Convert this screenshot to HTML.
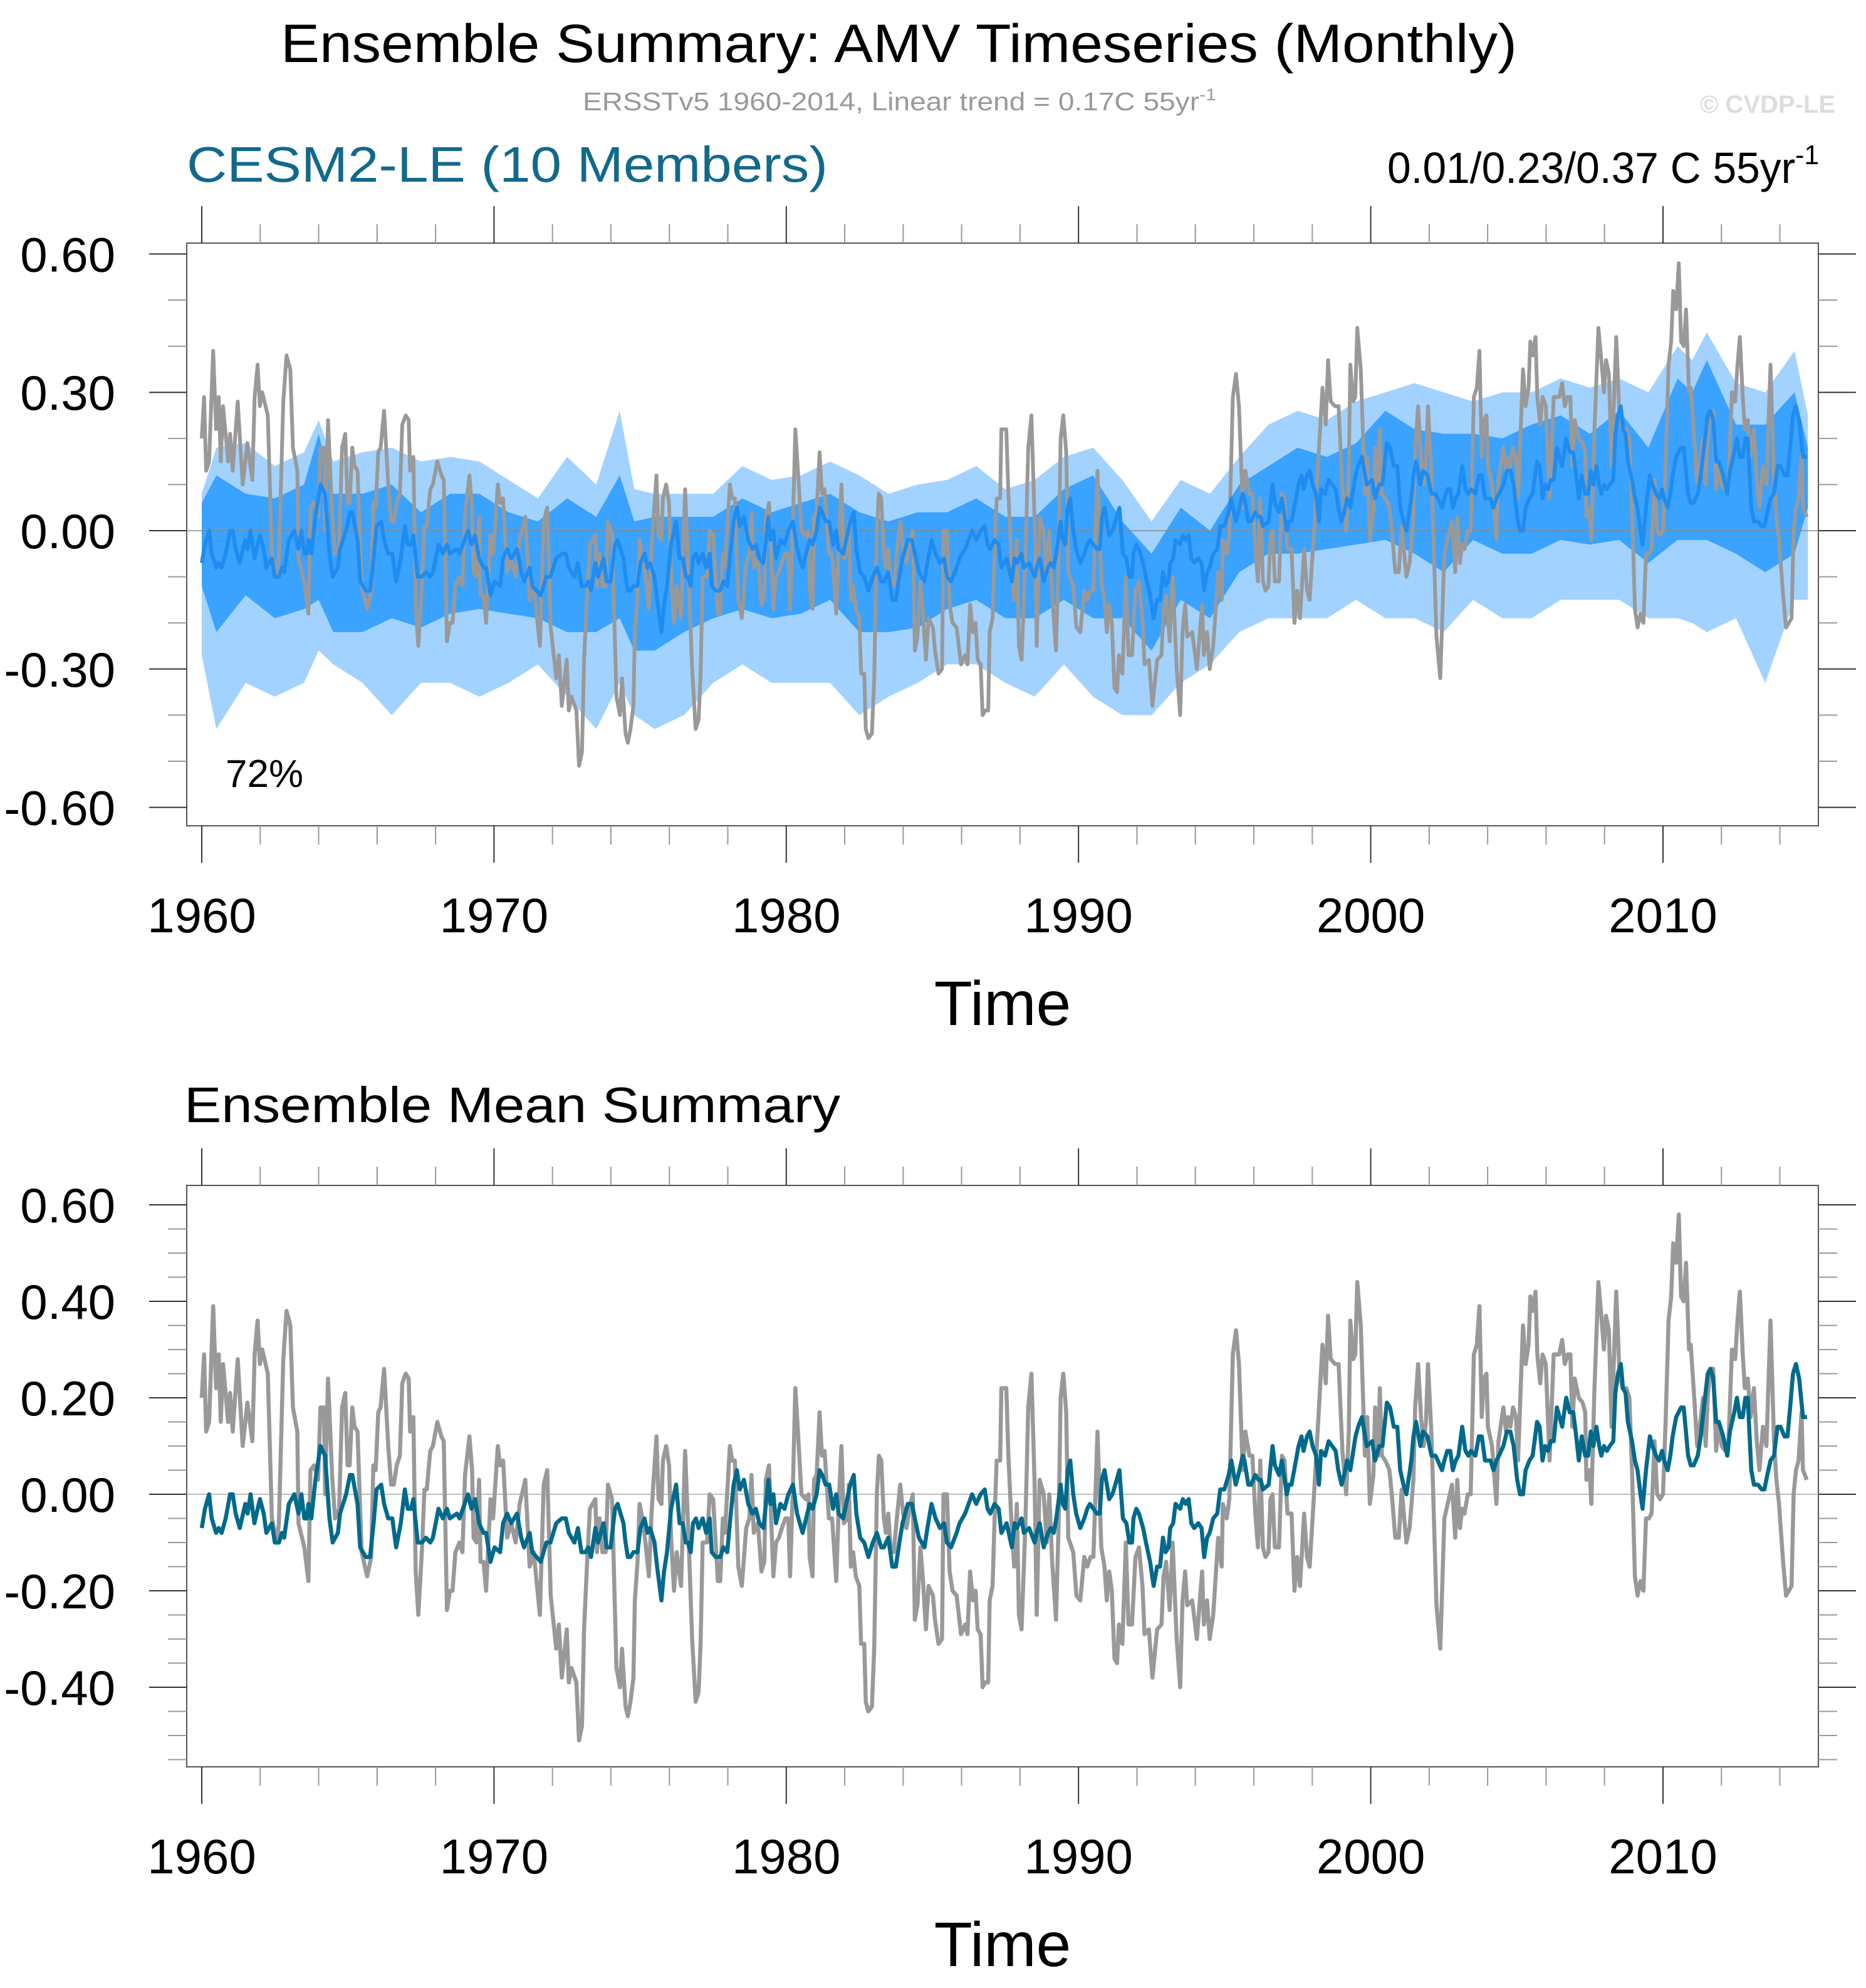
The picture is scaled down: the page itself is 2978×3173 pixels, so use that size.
<!DOCTYPE html>
<html><head><meta charset="utf-8">
<style>
html,body{margin:0;padding:0;background:#fff;}
svg{display:block;font-family:"Liberation Sans",Arial,sans-serif;}
</style></head>
<body>
<svg id="chart" xmlns="http://www.w3.org/2000/svg" width="2978" height="3173" viewBox="0 0 2978 3173">
<rect x="0" y="0" width="2978" height="3173" fill="#fff"/>
<text x="448" y="99" font-size="86" textLength="1973" lengthAdjust="spacingAndGlyphs" fill="#000">Ensemble Summary: AMV Timeseries (Monthly)</text>
<text x="930" y="176" font-size="41" textLength="1011" lengthAdjust="spacingAndGlyphs" fill="#999">ERSSTv5 1960-2014, Linear trend = 0.17C 55yr<tspan dy="-16" font-size="27">-1</tspan></text>
<text x="2929" y="180" font-size="40" font-weight="bold" text-anchor="end" fill="#ddd">© CVDP-LE</text>
<text x="298" y="290" font-size="80" textLength="1023" lengthAdjust="spacingAndGlyphs" fill="#12698c">CESM2-LE (10 Members)</text>
<text x="2214" y="292" font-size="70" textLength="689" lengthAdjust="spacingAndGlyphs" fill="#000">0.01/0.23/0.37 C 55yr<tspan dy="-30" font-size="44">-1</tspan></text>
<text x="294" y="1791" font-size="80" textLength="1047" lengthAdjust="spacingAndGlyphs" fill="#000">Ensemble Mean Summary</text>
<g id="top"></g>
<g id="bot"></g>
</svg>
<script>
// ---------- data ----------
const obsYears=[1960.00,1960.08,1960.15,1960.25,1960.39,1960.49,1960.58,1960.65,1960.73,1960.90,1960.97,1961.06,1961.23,1961.40,1961.56,1961.73,1961.81,1961.91,1961.99,1962.07,1962.26,1962.40,1962.57,1962.64,1962.79,1962.90,1963.03,1963.12,1963.27,1963.31,1963.51,1963.65,1963.72,1963.84,1963.98,1964.06,1964.18,1964.22,1964.32,1964.46,1964.56,1964.70,1964.80,1964.91,1964.99,1965.06,1965.15,1965.23,1965.33,1965.47,1965.66,1965.80,1965.87,1965.95,1966.04,1966.12,1966.24,1966.38,1966.48,1966.57,1966.67,1966.78,1966.86,1966.98,1967.08,1967.13,1967.24,1967.32,1967.41,1967.53,1967.62,1967.70,1967.82,1967.91,1968.06,1968.20,1968.28,1968.39,1968.49,1968.58,1968.68,1968.82,1968.92,1969.01,1969.16,1969.25,1969.30,1969.40,1969.49,1969.54,1969.64,1969.73,1969.88,1969.97,1970.13,1970.21,1970.31,1970.45,1970.59,1970.74,1970.88,1971.07,1971.22,1971.36,1971.57,1971.70,1971.82,1971.94,1972.13,1972.22,1972.32,1972.49,1972.56,1972.65,1972.82,1972.91,1973.01,1973.08,1973.18,1973.28,1973.37,1973.47,1973.52,1973.61,1973.71,1973.82,1973.90,1974.04,1974.19,1974.31,1974.38,1974.50,
1974.58,1974.67,1974.77,1974.82,1974.91,1974.98,1975.11,1975.20,1975.30,1975.39,1975.46,1975.56,1975.63,1975.73,1975.78,1975.89,1975.99,1976.06,1976.16,1976.25,1976.40,1976.54,1976.68,1976.78,1976.90,1977.00,1977.07,1977.14,1977.29,1977.38,1977.50,1977.66,1977.74,1977.83,1977.90,1978.07,1978.15,1978.24,1978.36,1978.48,1978.63,1978.74,1978.81,1978.89,1979.03,1979.15,1979.25,1979.30,1979.41,1979.56,1979.65,1979.75,1979.85,1979.97,1980.07,1980.13,1980.23,1980.31,1980.39,1980.52,1980.66,1980.76,1980.80,1980.90,1980.95,1981.04,1981.14,1981.22,1981.31,1981.46,1981.57,1981.71,1981.81,1981.89,1981.97,1982.10,1982.14,1982.21,1982.29,1982.38,1982.50,1982.56,1982.67,1982.72,1982.81,1982.93,1983.01,1983.10,1983.17,1983.25,1983.34,1983.41,1983.49,1983.58,1983.68,1983.80,1983.90,1984.00,1984.11,1984.25,1984.33,1984.40,1984.49,1984.59,1984.68,1984.78,1984.87,1985.02,1985.09,1985.21,1985.33,1985.38,1985.50,1985.59,1985.69,1985.83,1985.98,1986.12,1986.20,1986.29,1986.39,1986.48,1986.55,1986.65,1986.72,1986.81,1986.91,1986.96,1987.06,1987.13,1987.20,1987.32,1987.36,1987.53,1987.60,1987.70,1987.80,1987.89,1987.96,1988.05,1988.18,1988.28,1988.39,1988.50,
1988.57,1988.67,1988.81,1988.91,1989.00,1989.10,1989.23,1989.32,1989.39,1989.48,1989.58,1989.65,1989.82,1989.93,1990.06,1990.20,1990.30,1990.41,1990.51,1990.65,1990.78,1990.89,1990.97,1991.05,1991.14,1991.23,1991.32,1991.38,1991.50,1991.62,1991.71,1991.83,1991.95,1992.07,1992.19,1992.26,1992.41,1992.53,1992.69,1992.84,1992.91,1993.00,1993.12,1993.22,1993.36,1993.48,1993.56,1993.65,1993.72,1993.89,1994.05,1994.23,1994.29,1994.40,1994.49,1994.61,1994.78,1994.90,1994.94,1995.07,1995.16,1995.28,1995.39,1995.49,1995.62,1995.71,1995.85,1995.95,1996.05,1996.14,1996.22,1996.31,1996.40,1996.50,1996.57,1996.64,1996.72,1996.86,1996.96,1997.05,1997.15,1997.29,1997.39,1997.48,1997.58,1997.72,1997.82,1997.91,1998.06,1998.23,1998.35,1998.46,1998.54,1998.63,1998.78,1998.90,1999.03,1999.16,1999.25,1999.30,1999.40,1999.47,1999.54,1999.66,1999.80,1999.88,1999.97,2000.09,2000.15,2000.26,2000.31,2000.38,2000.50,2000.64,2000.72,2000.84,2000.96,2001.06,2001.22,2001.33,2001.46,2001.52,2001.62,2001.72,2001.81,2001.89,2001.96,2002.08,2002.25,2002.38,
2002.52,2002.67,2002.78,2002.89,2002.96,2003.05,2003.13,2003.21,2003.32,2003.42,2003.53,2003.63,2003.72,2003.80,2003.87,2003.96,2004.01,2004.15,2004.30,2004.37,2004.54,2004.63,2004.70,2004.78,2004.87,2004.97,2005.04,2005.21,2005.30,2005.40,2005.46,2005.54,2005.64,2005.70,2005.80,2005.88,2005.99,2006.12,2006.26,2006.45,2006.55,2006.64,2006.74,2006.83,2006.90,2006.98,2007.12,2007.25,2007.34,2007.38,2007.49,2007.55,2007.65,2007.79,2007.89,2007.98,2008.05,2008.15,2008.24,2008.40,2008.51,2008.61,2008.75,2008.85,2008.94,2009.04,2009.13,2009.23,2009.33,2009.42,2009.52,2009.61,2009.71,2009.80,2009.90,2010.00,2010.09,2010.19,2010.28,2010.35,2010.45,2010.54,2010.62,2010.71,2010.79,2010.89,2010.95,2011.07,2011.17,2011.24,2011.37,2011.46,2011.53,2011.62,2011.72,2011.82,2011.91,2012.01,2012.13,2012.23,2012.36,2012.47,2012.55,2012.63,2012.73,2012.80,2012.90,2013.00,2013.11,2013.21,2013.30,2013.42,2013.54,2013.68,2013.80,2013.88,2013.97,2014.11,2014.21,2014.31,2014.40,2014.47,2014.55,2014.64,2014.74,2014.79,2014.92];
const obsVals=[0.20,0.29,0.13,0.15,0.39,0.22,0.29,0.15,0.27,0.15,0.21,0.13,0.28,0.10,0.19,0.11,0.29,0.36,0.27,0.30,0.25,-0.05,-0.10,-0.06,0.28,0.38,0.35,0.18,0.13,-0.06,-0.11,-0.18,0.05,0.06,0.03,0.18,0.18,0.00,0.24,0.04,-0.05,-0.03,0.18,0.21,0.06,0.06,0.18,0.14,0.13,-0.12,-0.17,-0.13,0.06,0.05,0.17,0.18,0.26,0.10,0.02,0.02,0.06,0.08,0.23,0.25,0.24,0.13,0.16,-0.16,-0.25,-0.12,0.01,0.01,0.09,0.10,0.15,0.12,0.11,-0.24,-0.20,-0.20,-0.12,-0.10,-0.12,0.04,0.12,0.05,-0.09,-0.10,0.03,-0.14,-0.14,-0.20,-0.01,-0.05,0.10,0.06,0.07,-0.09,-0.06,-0.10,-0.02,0.03,-0.15,-0.12,-0.25,0.02,0.05,-0.21,-0.32,-0.27,-0.38,-0.28,-0.39,-0.36,-0.39,-0.51,-0.48,-0.28,-0.15,-0.03,-0.02,-0.01,-0.12,-0.05,-0.12,-0.12,0.02,-0.01,-0.36,-0.40,-0.32,-0.44,
-0.46,-0.43,-0.38,-0.22,-0.14,-0.02,-0.06,-0.11,-0.17,-0.04,0.03,0.12,-0.01,-0.02,0.07,0.10,0.06,-0.09,-0.20,-0.12,-0.19,0.09,-0.13,-0.30,-0.43,-0.41,-0.31,-0.10,-0.10,0.00,-0.01,-0.18,-0.18,-0.05,-0.08,0.10,0.07,0.07,-0.15,-0.19,-0.07,-0.05,0.04,-0.08,-0.06,-0.16,-0.14,0.03,0.06,-0.17,-0.10,-0.09,-0.07,-0.05,-0.05,-0.17,0.02,0.22,0.14,0.00,-0.01,0.00,-0.13,-0.17,0.03,0.04,0.17,0.08,0.09,-0.05,-0.05,-0.18,0.00,0.10,-0.06,-0.05,0.02,-0.15,-0.12,-0.17,-0.19,-0.31,-0.31,-0.43,-0.45,-0.44,-0.32,0.00,0.08,0.07,-0.05,-0.08,-0.04,-0.12,-0.12,-0.04,0.02,-0.04,-0.07,-0.02,0.00,-0.26,-0.23,-0.11,-0.18,-0.28,-0.19,-0.21,-0.26,-0.31,-0.30,0.00,0.00,-0.16,-0.20,-0.21,-0.29,-0.27,-0.29,-0.16,-0.22,-0.20,-0.28,-0.29,-0.40,-0.39,-0.39,-0.22,-0.19,-0.05,0.07,0.07,0.22,0.22,0.08,-0.05,-0.15,-0.02,-0.25,-0.28,-0.07,0.18,0.25,0.02,
-0.25,0.03,0.00,-0.10,0.00,-0.14,-0.26,-0.06,0.20,0.25,0.17,-0.09,-0.12,-0.21,-0.22,-0.13,-0.15,-0.13,-0.13,0.13,-0.11,-0.15,-0.22,-0.16,-0.20,-0.34,-0.35,-0.27,-0.31,-0.10,-0.27,-0.27,-0.13,-0.11,-0.19,-0.29,-0.28,-0.38,-0.28,-0.27,-0.17,-0.14,-0.24,-0.10,-0.30,-0.40,-0.22,-0.16,-0.23,-0.22,-0.30,-0.16,-0.27,-0.22,-0.30,-0.25,-0.09,-0.15,-0.02,-0.05,-0.01,0.29,0.34,0.27,0.05,0.13,0.08,0.08,-0.04,-0.11,0.07,-0.11,-0.13,-0.12,-0.01,0.00,-0.11,-0.11,0.08,0.07,-0.04,-0.04,-0.20,-0.13,-0.19,-0.04,-0.13,-0.15,0.00,0.18,0.31,0.23,0.37,0.28,0.27,0.27,0.09,0.00,0.13,0.36,0.28,0.29,0.44,0.35,0.08,0.16,-0.02,0.04,0.18,0.08,0.22,0.08,0.07,0.05,0.00,-0.09,-0.09,0.01,-0.10,-0.07,0.03,0.18,0.27,0.16,0.10,0.15,0.27,0.12,-0.23,-0.32,
-0.05,-0.01,0.02,-0.09,0.03,-0.07,-0.03,-0.04,0.00,0.00,0.29,0.31,0.39,0.16,0.24,0.25,0.14,0.10,-0.02,0.11,0.18,0.13,0.16,0.14,0.18,0.16,0.07,0.35,0.27,0.31,0.41,0.38,0.42,0.29,0.23,0.29,0.27,0.07,0.29,0.29,0.32,0.27,0.29,0.29,0.14,0.24,0.20,0.19,0.17,0.03,0.05,-0.02,0.21,0.44,0.37,0.30,0.37,0.34,0.14,0.42,0.25,0.22,0.22,0.20,0.05,-0.17,-0.21,-0.18,-0.20,-0.05,-0.05,-0.04,0.11,0.00,-0.01,0.00,0.15,0.36,0.41,0.52,0.48,0.58,0.41,0.40,0.48,0.30,0.31,0.20,0.10,0.13,0.20,0.10,0.20,0.26,0.26,0.09,0.15,0.10,0.09,0.09,0.30,0.28,0.36,0.42,0.29,0.22,0.24,0.16,0.22,0.11,0.05,0.14,0.10,0.36,0.11,0.03,-0.02,-0.14,-0.21,-0.20,-0.19,0.00,0.05,0.07,0.17,0.05,0.03];

const meanYears=[1960.00,1960.11,1960.25,1960.34,1960.49,1960.58,1960.68,1960.82,1960.97,1961.06,1961.16,1961.30,1961.49,1961.57,1961.67,1961.80,1961.99,1962.12,1962.21,1962.40,1962.50,1962.64,1962.74,1962.82,1962.98,1963.17,1963.31,1963.41,1963.51,1963.60,1963.65,1963.75,1963.89,1964.06,1964.22,1964.37,1964.48,1964.66,1964.73,1964.94,1965.07,1965.15,1965.33,1965.42,1965.61,1965.76,1965.88,1965.98,1966.14,1966.24,1966.38,1966.52,1966.65,1966.81,1966.95,1967.05,1967.16,1967.24,1967.39,1967.53,1967.67,1967.82,1967.91,1968.10,1968.25,1968.39,1968.49,1968.73,1968.82,1969.11,1969.23,1969.35,1969.49,1969.64,1969.73,1969.88,1970.02,1970.21,1970.31,1970.45,1970.59,1970.79,1970.93,1971.03,1971.22,1971.31,1971.60,1971.79,1971.93,1972.13,1972.32,1972.46,1972.56,1972.75,1972.87,1972.99,1973.13,1973.23,1973.32,1973.47,1973.56,1973.75,1973.85,1973.99,1974.14,1974.23,1974.43,1974.50,
1974.58,1974.67,1974.77,1974.91,1975.01,1975.15,1975.25,1975.34,1975.49,1975.58,1975.73,1975.82,1975.92,1976.06,1976.23,1976.35,1976.46,1976.56,1976.64,1976.73,1976.81,1976.91,1977.00,1977.14,1977.26,1977.38,1977.45,1977.59,1977.74,1977.85,1977.98,1978.07,1978.20,1978.31,1978.41,1978.55,1978.70,1978.84,1978.96,1979.08,1979.22,1979.39,1979.46,1979.56,1979.65,1979.80,1979.94,1980.07,1980.23,1980.37,1980.56,1980.80,1980.90,1981.04,1981.14,1981.23,1981.35,1981.47,1981.60,1981.71,1981.79,1981.95,1982.19,1982.31,1982.40,1982.53,1982.67,1982.81,1982.96,1983.10,1983.25,1983.34,1983.49,1983.63,1983.75,1983.87,1983.98,1984.16,1984.30,1984.40,1984.54,1984.73,1984.83,1984.97,1985.11,1985.26,1985.40,1985.50,1985.64,1985.83,1985.93,1986.12,1986.36,1986.50,1986.65,1986.79,1986.89,1986.98,1987.13,1987.27,1987.36,1987.54,1987.72,1987.81,1987.89,1988.05,1988.13,1988.31,1988.50,
1988.57,1988.67,1988.81,1988.96,1989.05,1989.15,1989.24,1989.39,1989.46,1989.55,1989.63,1989.72,1989.82,1989.92,1990.06,1990.20,1990.30,1990.39,1990.51,1990.63,1990.73,1990.80,1990.89,1991.05,1991.16,1991.26,1991.40,1991.52,1991.64,1991.74,1991.83,1991.88,1991.98,1992.07,1992.21,1992.31,1992.45,1992.57,1992.69,1992.79,1992.89,1992.98,1993.08,1993.14,1993.24,1993.32,1993.48,1993.57,1993.67,1993.77,1993.86,1993.96,1994.10,1994.21,1994.30,1994.40,1994.49,1994.61,1994.75,1994.85,1994.99,1995.14,1995.23,1995.38,1995.47,1995.62,1995.68,1995.81,1995.90,1996.05,1996.16,1996.24,1996.31,1996.51,1996.64,1996.72,1996.86,1996.96,1997.13,1997.20,1997.29,1997.44,1997.53,1997.63,1997.70,1997.82,1997.91,1998.01,1998.13,1998.23,1998.30,1998.44,1998.56,1998.68,1998.80,1998.89,1999.00,1999.09,1999.19,1999.30,1999.48,1999.57,1999.70,1999.86,2000.05,2000.15,2000.29,2000.40,2000.55,2000.66,2000.79,2000.91,2001.01,2001.12,2001.22,2001.39,2001.46,2001.55,2001.70,2001.79,2001.94,2002.08,2002.22,2002.44,
2002.52,2002.62,2002.72,2002.81,2002.91,2003.00,2003.13,2003.24,2003.34,2003.43,2003.58,2003.70,2003.80,2003.91,2003.99,2004.10,2004.20,2004.30,2004.39,2004.54,2004.66,2004.78,2004.89,2005.01,2005.11,2005.21,2005.30,2005.43,2005.54,2005.69,2005.78,2005.88,2005.97,2006.07,2006.16,2006.26,2006.37,2006.55,2006.69,2006.81,2006.93,2007.03,2007.12,2007.22,2007.34,2007.44,2007.53,2007.62,2007.72,2007.82,2007.89,2007.98,2008.08,2008.18,2008.30,2008.37,2008.46,2008.56,2008.63,2008.72,2008.80,2008.94,2009.04,2009.13,2009.23,2009.30,2009.42,2009.55,2009.64,2009.76,2009.87,2009.97,2010.04,2010.16,2010.25,2010.33,2010.45,2010.62,2010.71,2010.86,2010.95,2011.05,2011.19,2011.29,2011.40,2011.53,2011.62,2011.72,2011.82,2011.91,2012.06,2012.20,2012.29,2012.44,2012.53,2012.63,2012.73,2012.82,2012.90,2013.02,2013.11,2013.25,2013.38,2013.47,2013.57,2013.68,2013.80,2013.92,2014.02,2014.16,2014.26,2014.35,2014.45,2014.55,2014.66,2014.79,2014.93];
const meanVals=[-0.07,-0.03,0.00,-0.05,-0.08,-0.07,-0.08,-0.05,0.00,0.00,-0.04,-0.07,-0.02,-0.04,0.00,-0.06,-0.01,-0.04,-0.08,-0.06,-0.10,-0.10,-0.08,-0.09,-0.02,0.00,-0.04,0.00,-0.05,-0.05,-0.02,-0.05,0.03,0.10,0.08,-0.05,-0.10,-0.08,-0.04,0.00,0.04,0.04,-0.02,-0.11,-0.13,-0.13,-0.06,0.01,0.02,-0.02,-0.05,-0.05,-0.11,-0.06,0.01,-0.03,-0.03,-0.01,-0.10,-0.10,-0.09,-0.10,-0.09,-0.03,-0.05,-0.03,-0.05,-0.04,-0.05,0.00,-0.03,-0.01,-0.06,-0.08,-0.08,-0.14,-0.11,-0.12,-0.06,-0.04,-0.06,-0.04,-0.09,-0.11,-0.08,-0.12,-0.14,-0.10,-0.10,-0.06,-0.05,-0.05,-0.08,-0.10,-0.07,-0.12,-0.12,-0.11,-0.13,-0.07,-0.10,-0.06,-0.11,-0.11,-0.03,-0.02,-0.06,-0.10,
-0.13,-0.13,-0.12,-0.12,-0.07,-0.05,-0.08,-0.07,-0.10,-0.15,-0.22,-0.16,-0.12,-0.03,0.02,-0.06,-0.06,-0.10,-0.10,-0.12,-0.06,-0.05,-0.07,-0.05,-0.08,-0.05,-0.12,-0.13,-0.13,-0.11,-0.12,-0.06,0.02,0.05,0.01,0.03,-0.02,-0.04,-0.03,-0.06,-0.07,0.03,-0.02,0.00,-0.06,-0.02,-0.03,0.00,0.02,-0.04,-0.08,-0.02,-0.03,0.00,0.05,0.04,0.02,0.02,-0.03,0.00,-0.04,-0.05,0.02,0.04,-0.04,-0.09,-0.10,-0.13,-0.10,-0.08,-0.11,-0.11,-0.09,-0.15,-0.15,-0.10,-0.06,-0.02,-0.02,-0.05,-0.09,-0.11,-0.07,-0.02,-0.05,-0.07,-0.06,-0.10,-0.11,-0.08,-0.06,-0.04,0.00,-0.02,0.00,0.01,-0.03,-0.04,-0.02,-0.03,-0.08,-0.06,-0.11,-0.06,-0.07,-0.05,-0.08,-0.07,-0.10,
-0.08,-0.06,-0.11,-0.08,-0.07,-0.08,-0.05,0.02,-0.02,-0.03,0.05,0.07,0.00,-0.04,-0.07,-0.05,-0.03,-0.02,-0.03,-0.04,-0.04,0.03,0.05,-0.01,0.00,0.02,0.05,-0.05,-0.06,-0.10,-0.10,-0.05,-0.03,-0.04,-0.07,-0.10,-0.14,-0.19,-0.15,-0.15,-0.09,-0.12,-0.11,-0.07,-0.06,-0.02,-0.03,-0.01,-0.02,-0.01,-0.06,-0.07,-0.06,-0.07,-0.13,-0.09,-0.08,-0.05,-0.04,0.01,0.01,0.04,0.07,0.02,0.04,0.08,0.07,0.02,0.02,0.04,0.03,0.03,0.01,0.02,0.10,0.06,0.04,0.07,0.00,0.02,0.02,0.07,0.10,0.12,0.09,0.12,0.13,0.10,0.08,0.02,0.09,0.08,0.11,0.10,0.09,0.05,0.02,0.04,0.07,0.05,0.12,0.14,0.16,0.10,0.11,0.07,0.10,0.10,0.19,0.18,0.14,0.14,0.05,0.02,0.00,0.07,0.12,0.15,0.10,0.13,0.12,0.08,0.08,0.05,
0.07,0.09,0.09,0.05,0.07,0.08,0.14,0.09,0.08,0.09,0.08,0.12,0.12,0.07,0.07,0.07,0.05,0.07,0.08,0.10,0.13,0.13,0.10,0.03,0.00,0.00,0.05,0.07,0.08,0.15,0.14,0.07,0.10,0.09,0.11,0.11,0.18,0.14,0.20,0.17,0.17,0.12,0.07,0.12,0.08,0.08,0.13,0.10,0.14,0.10,0.08,0.10,0.09,0.10,0.11,0.21,0.25,0.27,0.22,0.21,0.15,0.11,0.07,0.05,0.00,-0.03,0.05,0.12,0.10,0.08,0.07,0.09,0.07,0.05,0.08,0.12,0.16,0.18,0.18,0.08,0.06,0.06,0.08,0.12,0.18,0.25,0.26,0.24,0.15,0.15,0.12,0.08,0.13,0.17,0.20,0.16,0.16,0.20,0.20,0.05,0.02,0.02,0.01,0.01,0.04,0.07,0.08,0.14,0.14,0.12,0.12,0.18,0.25,0.27,0.24,0.16,0.16];

const bandYears=[1960.0,1960.5,1961.5,1962.5,1963.5,1964.0,1964.5,1965.5,1966.5,1967.5,1968.5,1969.5,1970.5,1971.5,1972.5,1973.5,1974.3,1974.8,1975.5,1976.5,1977.5,1978.5,1979.5,1980.5,1981.5,1982.5,1983.5,1984.5,1985.5,1986.5,1987.5,1988.5,1989.5,1990.5,1991.5,1992.5,1993.5,1994.5,1995.5,1996.5,1997.5,1998.5,1999.5,2000.5,2001.5,2002.5,2003.5,2004.5,2005.5,2006.5,2007.5,2008.5,2009.5,2010.5,2011.0,2011.5,2012.5,2013.5,2014.5,2014.96];
const lightTop=[0.08,0.18,0.19,0.14,0.17,0.24,0.15,0.17,0.18,0.15,0.16,0.15,0.11,0.07,0.16,0.10,0.26,0.09,0.08,0.08,0.08,0.14,0.11,0.12,0.15,0.12,0.08,0.10,0.11,0.14,0.09,0.11,0.16,0.18,0.11,0.02,0.11,0.08,0.16,0.23,0.26,0.24,0.28,0.30,0.32,0.30,0.28,0.30,0.30,0.33,0.31,0.33,0.30,0.40,0.37,0.43,0.32,0.30,0.39,0.25];
const darkTop=[0.06,0.12,0.08,0.07,0.10,0.21,0.08,0.08,0.10,0.04,0.08,0.08,0.04,0.02,0.07,0.03,0.12,0.02,0.03,0.03,0.03,0.07,0.04,0.06,0.08,0.04,0.02,0.04,0.04,0.07,0.03,0.03,0.09,0.12,0.02,-0.05,0.05,0.00,0.10,0.14,0.18,0.16,0.19,0.26,0.22,0.21,0.21,0.20,0.23,0.25,0.21,0.26,0.18,0.33,0.30,0.37,0.23,0.23,0.30,0.18];
const darkBot=[-0.12,-0.22,-0.14,-0.19,-0.17,-0.15,-0.22,-0.22,-0.19,-0.21,-0.18,-0.17,-0.18,-0.19,-0.22,-0.22,-0.19,-0.26,-0.26,-0.22,-0.19,-0.17,-0.19,-0.18,-0.15,-0.22,-0.22,-0.21,-0.17,-0.15,-0.19,-0.19,-0.15,-0.19,-0.19,-0.26,-0.15,-0.19,-0.09,-0.05,-0.05,-0.04,-0.03,-0.02,-0.05,-0.09,-0.02,-0.05,-0.05,-0.02,-0.03,-0.02,-0.07,-0.02,-0.02,-0.02,-0.05,-0.09,-0.05,0.05];
const lightBot=[-0.27,-0.43,-0.33,-0.36,-0.33,-0.26,-0.29,-0.33,-0.40,-0.33,-0.33,-0.36,-0.33,-0.29,-0.36,-0.43,-0.33,-0.40,-0.43,-0.40,-0.33,-0.29,-0.33,-0.33,-0.33,-0.40,-0.36,-0.33,-0.29,-0.29,-0.33,-0.36,-0.29,-0.36,-0.40,-0.40,-0.33,-0.29,-0.22,-0.19,-0.19,-0.19,-0.15,-0.19,-0.19,-0.22,-0.15,-0.19,-0.19,-0.15,-0.15,-0.15,-0.19,-0.19,-0.20,-0.22,-0.19,-0.33,-0.15,-0.15];

const topTicks=[0.6,0.3,0.0,-0.3,-0.6];
const topTickLabels=["0.60","0.30","0.00","-0.30","-0.60"];
const botTicks=[0.6,0.4,0.2,0.0,-0.2,-0.4];
const botTickLabels=["0.60","0.40","0.20","0.00","-0.20","-0.40"];
const yearTicks=[1960,1970,1980,1990,2000,2010];
const yearLabels=["1960","1970","1980","1990","2000","2010"];

// ---------- drawing ----------
const NS="http://www.w3.org/2000/svg";
const X0=298,X1=2902;
const xScale=y=>322+(y-1960)*46.64;
function mk(tag,attrs,parent){const e=document.createElementNS(NS,tag);for(const k in attrs)e.setAttribute(k,attrs[k]);parent.appendChild(e);return e;}

function panel(g,top,bottom,zeroY,ppu,ticks,labels,minorStep,name){
  const yS=v=>zeroY-v*ppu;
  const vmin=(zeroY-bottom)/ppu, vmax=(zeroY-top)/ppu;
  const cp=mk('clipPath',{id:'clip-'+name},g);
  mk('rect',{x:X0,y:top,width:X1-X0,height:bottom-top},cp);
  const fr=mk('rect',{x:X0,y:top,width:X1-X0,height:bottom-top,fill:'none',stroke:'#555','stroke-width':2},g);
  
  
  for(let yr=1960;yr<=2014;yr+=2){
    const x=xScale(yr);const major=(yr%10===0);
    const L=major?59:30;
    const t1=mk('line',{x1:x,y1:top-L,x2:x,y2:top,stroke:major?'#333':'#999','stroke-width':2},g);
    
    
    const t2=mk('line',{x1:x,y1:bottom,x2:x,y2:bottom+L,stroke:major?'#333':'#999','stroke-width':2},g);
    
    
  }
  const n0=Math.ceil(vmin/minorStep-1e-6),n1=Math.floor(vmax/minorStep+1e-6);
  for(let i=n0;i<=n1;i++){
    const v=i*minorStep;const y=yS(v);
    const major=ticks.some(t=>Math.abs(t-v)<1e-6);
    const L=major?60:30;
    const a=mk('line',{x1:X0-L,y1:y,x2:X0,y2:y,stroke:major?'#333':'#999','stroke-width':2},g);
    
    
    const b=mk('line',{x1:X1,y1:y,x2:X1+L,y2:y,stroke:major?'#333':'#999','stroke-width':2},g);
    
    
  }
  ticks.forEach((t,i)=>{
    const tx=mk('text',{x:184,y:yS(t)+28,'font-size':78,'text-anchor':'end',fill:'#000'},g);
    tx.textContent=labels[i];
    
    
  });
  yearTicks.forEach((yr,i)=>{
    const tx=mk('text',{x:xScale(yr),y:bottom+170,'font-size':78,'text-anchor':'middle',fill:'#000'},g);
    tx.textContent=yearLabels[i];
    
    
  });
  const tt=mk('text',{x:1600,y:bottom+318,'font-size':100,'text-anchor':'middle',fill:'#000'},g);
  tt.textContent='Time';
  
  
  const inner=mk('g',{'clip-path':'url(#clip-'+name+')'},g);
  return {yS,inner};
}
function linePath(xs,vs,yS){return xs.map((x,i)=>(i?'L':'M')+xScale(x).toFixed(1)+' '+yS(vs[i]).toFixed(1)).join(' ');}
function bandPath(xs,up,lo,yS){
  let d=xs.map((x,i)=>(i?'L':'M')+xScale(x).toFixed(1)+' '+yS(up[i]).toFixed(1)).join(' ');
  for(let i=xs.length-1;i>=0;i--)d+=' L'+xScale(xs[i]).toFixed(1)+' '+yS(lo[i]).toFixed(1);
  return d+' Z';
}

// top panel
const T=panel(document.getElementById('top'),388,1318,847,736,topTicks,topTickLabels,0.1,'ensemble');
const lb=mk('path',{d:bandPath(bandYears,lightTop,lightBot,T.yS),fill:'#a2d2ff'},T.inner);


const db=mk('path',{d:bandPath(bandYears,darkTop,darkBot,T.yS),fill:'#3aa2ff'},T.inner);


const z1=mk('line',{x1:X0,y1:T.yS(0),x2:X1,y2:T.yS(0),stroke:'#888','stroke-width':1.5},T.inner);


const ol=mk('path',{d:linePath(obsYears,obsVals,T.yS),fill:'none',stroke:'#999','stroke-width':6,'stroke-linejoin':'round'},T.inner);


const ml=mk('path',{d:linePath(meanYears,meanVals,T.yS),fill:'none',stroke:'#1e8cf0','stroke-width':6,'stroke-linejoin':'round'},T.inner);


const pct=mk('text',{x:360,y:1256,'font-size':62,fill:'#000'},document.getElementById('top'));
pct.textContent='72%';



// bottom panel
const B=panel(document.getElementById('bot'),1892,2820,2385,770,botTicks,botTickLabels,0.05,'mean');
const z2=mk('line',{x1:X0,y1:B.yS(0),x2:X1,y2:B.yS(0),stroke:'#aaa','stroke-width':1.5},B.inner);


const ol2=mk('path',{d:linePath(obsYears,obsVals,B.yS),fill:'none',stroke:'#999','stroke-width':6.5,'stroke-linejoin':'round'},B.inner);


const ml2=mk('path',{d:linePath(meanYears,meanVals,B.yS),fill:'none',stroke:'#006a8c','stroke-width':6.5,'stroke-linejoin':'round'},B.inner);


</script>
</body></html>
